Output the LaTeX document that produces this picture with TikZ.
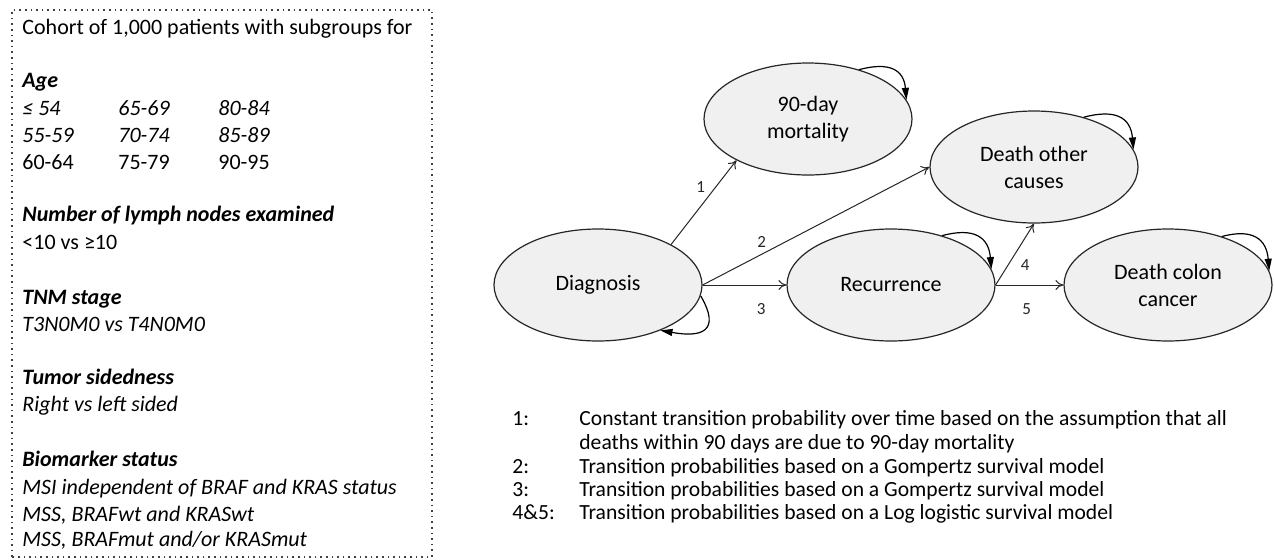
\documentclass[tikz,border=0pt]{standalone}
\usepackage{fontspec}
\setmainfont{Carlito}
\usetikzlibrary{shapes.geometric,arrows.meta}

\tikzset{
  stateell/.style={ellipse, draw=black!85, fill=black!6, line width=0.6pt,
    minimum width=104pt, minimum height=56pt, inner sep=0pt, align=center,
    font=\fontsize{11}{13.5}\selectfont},
  trans/.style={-{To[length=4pt,width=5pt]}, line width=0.5pt, black!85},
  selfloop/.style={-{Triangle[length=6pt,width=3.5pt]}, line width=0.6pt, black},
  edgelbl/.style={font=\fontsize{8.5}{9}\selectfont, inner sep=1pt},
  boxtxt/.style={anchor=mid west, inner sep=0pt, font=\fontsize{11}{13}\selectfont},
  legtxt/.style={anchor=mid west, inner sep=0pt, font=\fontsize{10.8}{12}\selectfont},
}

\begin{document}
\begin{tikzpicture}[x=0.5pt,y=0.5pt]
  \useasboundingbox (0,0) rectangle (1274,559);

  % cohort box
  \draw[black!75, dotted, line width=0.8pt] (12,2) rectangle (432,549);
  \node[boxtxt] (cohort) at (22,529) {Cohort of 1,000 patients with subgroups for};
  \node[boxtxt] (age) at (22,476) {\textbf{\itshape Age}};
  \node[boxtxt] (a1) at (22,448) {\itshape ≤ 54};
  \node[boxtxt] (a2) at (118,448) {\itshape 65-69};
  \node[boxtxt] (a3) at (218,448) {\itshape 80-84};
  \node[boxtxt] (a4) at (22,421) {\itshape 55-59};
  \node[boxtxt] (a5) at (118,421) {\itshape 70-74};
  \node[boxtxt] (a6) at (218,421) {\itshape 85-89};
  \node[boxtxt] (a7) at (22,394) {60-64};
  \node[boxtxt] (a8) at (118,394) {75-79};
  \node[boxtxt] (a9) at (218,394) {90-95};
  \node[boxtxt] (lymph) at (22,342) {\textbf{\itshape Number of lymph nodes examined}};
  \node[boxtxt] (lymphv) at (22,314) {<10 vs ≥10};
  \node[boxtxt] (tnm) at (22,259) {\textbf{\itshape TNM stage}};
  \node[boxtxt] (tnmv) at (22,232) {\itshape T3N0M0 vs T4N0M0};
  \node[boxtxt] (side) at (22,179) {\textbf{\itshape Tumor sidedness}};
  \node[boxtxt] (sidev) at (22,152) {\itshape Right vs left sided};
  \node[boxtxt] (bio) at (22,97) {\textbf{\itshape Biomarker status}};
  \node[boxtxt] (bio1) at (22,69) {\itshape MSI independent of BRAF and KRAS status};
  \node[boxtxt] (bio2) at (22,42) {\itshape MSS, BRAFwt and KRASwt};
  \node[boxtxt] (bio3) at (22,17) {\itshape MSS, BRAFmut and/or KRASmut};

  % states
  \node[stateell] (diag) at (598,274) {Diagnosis};
  \node[stateell] (mort) at (808,440) {90-day\\mortality};
  \node[stateell] (recur) at (891,274) {Recurrence};
  \node[stateell] (other) at (1034,392) {Death other\\causes};
  \node[stateell] (colon) at (1168,274) {Death colon\\cancer};

  % transitions
  \draw[trans] (diag.29) -- node[edgelbl, pos=0.68, left=4pt] (l1) {1} (mort.210);
  \draw[trans] (diag.east) -- node[edgelbl, pos=0.26, above=2pt] (l2) {2} (other.west);
  \draw[trans] (diag.east) -- node[edgelbl, pos=0.7, below=8pt] (l3) {3} (recur.west);
  \draw[trans] (recur.east) -- node[edgelbl, pos=0.33, right=5pt] (l4) {4} (other.south);
  \draw[trans] (recur.east) -- node[edgelbl, pos=0.46, below=8pt] (l5) {5} (colon.west);

  % staying in a state
  \draw[selfloop] (mort.44) to[out=15,in=95,looseness=1.4] (mort.11);
  \draw[selfloop] (other.45) to[out=15,in=95,looseness=1.4] (other.10);
  \draw[selfloop] (recur.44) to[out=15,in=95,looseness=1.4] (recur.9);
  \draw[selfloop] (colon.42) to[out=15,in=95,looseness=1.4] (colon.8);
  \draw[selfloop] (diag.-6) to[out=-60,in=-10,looseness=2] (diag.-36);

  % legend
  \node[legtxt] (k1) at (512,138) {1:};
  \node[legtxt] (t1) at (579,138) {Constant transition probability over time based on the assumption that all};
  \node[legtxt] (t1b) at (579,114) {deaths within 90 days are due to 90-day mortality};
  \node[legtxt] (k2) at (512,90) {2:};
  \node[legtxt] (t2) at (579,90) {Transition probabilities based on a Gompertz survival model};
  \node[legtxt] (k3) at (512,67) {3:};
  \node[legtxt] (t3) at (579,67) {Transition probabilities based on a Gompertz survival model};
  \node[legtxt] (k4) at (512,44) {4\&5:};
  \node[legtxt] (t4) at (579,44) {Transition probabilities based on a Log logistic survival model};
\end{tikzpicture}
\end{document}
